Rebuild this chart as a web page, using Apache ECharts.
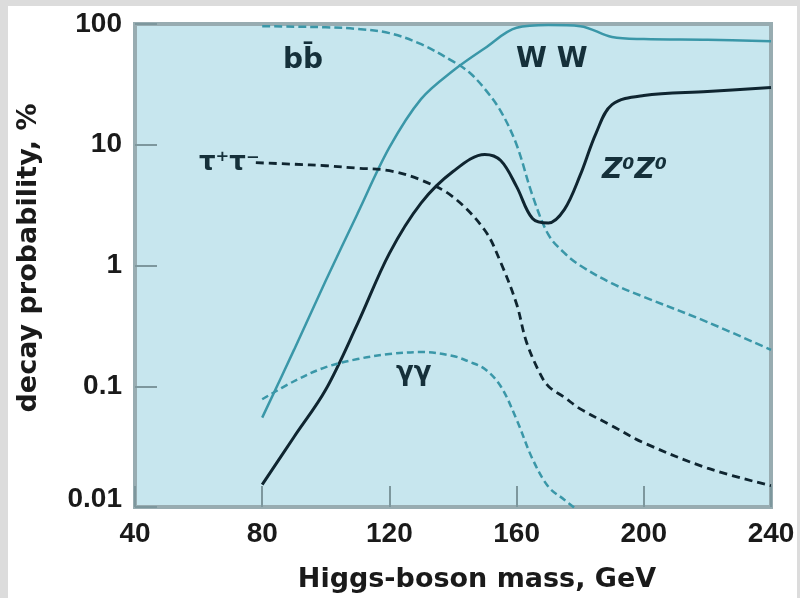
<!DOCTYPE html>
<html>
<head>
<meta charset="utf-8">
<script src="https://cdn.jsdelivr.net/npm/echarts@6/dist/echarts.min.js"></script>
<style>
  html, body { margin: 0; padding: 0; background: #dcdcdc; }
  #sheet { position: absolute; left: 8px; top: 6px; width: 789px; height: 592px; background: #ffffff; }
  #chart { position: absolute; left: 0; top: 0; width: 800px; height: 598px; }
</style>
</head>
<body>
<div id="sheet"></div>
<div id="chart"></div>
<script>
// Higgs-boson decay branching fractions (%) versus mass (GeV)
const massTicks = [40, 80, 120, 160, 200, 240];
const probTicks = ['0.01', '0.1', '1', '10', '100'];

const bbMass = [80, 90, 100, 110, 120, 130, 140, 145, 150, 155, 160, 165, 170, 175, 180, 190, 200, 220, 240];
const bbProb = [96, 95, 94, 91, 84, 68, 49, 40, 29, 19, 10, 3.8, 1.8, 1.27, 1.0, 0.71, 0.55, 0.34, 0.2];

const wwMass = [80, 90, 100, 110, 120, 130, 140, 150, 160, 170, 180, 190, 200, 220, 240];
const wwProb = [0.055, 0.2, 0.75, 2.7, 9.5, 24, 41, 63, 93, 98, 96, 78, 75, 74, 72];

const zzMass = [80, 90, 100, 110, 120, 130, 140, 150, 155, 160, 165, 170, 175, 180, 185, 190, 200, 220, 240];
const zzProb = [0.0153, 0.038, 0.094, 0.33, 1.26, 3.3, 6.0, 8.3, 7.4, 4.5, 2.45, 2.25, 2.9, 5.6, 12.5, 21.5, 25.6, 27.6, 29.8];

const tauMass = [78, 90, 100, 110, 120, 130, 140, 150, 155, 160, 163, 167, 170, 175, 180, 190, 200, 220, 240];
const tauProb = [7.1, 6.9, 6.7, 6.4, 6.1, 5.1, 3.7, 1.96, 1.06, 0.48, 0.237, 0.133, 0.1, 0.081, 0.065, 0.047, 0.034, 0.021, 0.015];

const gamMass = [80, 90, 100, 110, 120, 130, 140, 145, 150, 155, 160, 165, 170, 175, 180];
const gamProb = [0.078, 0.11, 0.144, 0.168, 0.185, 0.192, 0.178, 0.16, 0.139, 0.1, 0.053, 0.025, 0.0147, 0.0115, 0.009];

const zip = (xs, ys) => xs.map((x, i) => [x, ys[i]]);

const TEAL = '#3a97a8';
const DARK = '#0f2530';
const LABEL_FONT = 'DejaVu Sans';
const TICK_FONT = 'Liberation Sans';

function curve(name, mass, prob, color, dashed, width) {
  return {
    name: name,
    type: 'line',
    data: zip(mass, prob),
    showSymbol: false,
    smooth: 0.35,
    clip: true,
    lineStyle: { color: color, width: width, type: dashed ? dashed : 'solid' }
  };
}

const chart = echarts.init(document.getElementById('chart'), null, { renderer: 'canvas' });

chart.setOption({
  backgroundColor: 'transparent',
  animation: false,
  grid: {
    left: 135, top: 24, right: 29, bottom: 91,
    show: true,
    backgroundColor: '#c7e6ee',
    borderColor: '#98acb1',
    borderWidth: 4
  },
  xAxis: {
    type: 'value',
    min: massTicks[0],
    max: massTicks[massTicks.length - 1],
    interval: 40,
    name: 'Higgs-boson mass, GeV',
    nameLocation: 'middle',
    nameGap: 59,
    nameTextStyle: {
      fontFamily: LABEL_FONT, fontWeight: 'bold', fontSize: 27, color: '#1a1a1a',
      padding: [0, 0, 0, 48]
    },
    axisLine: { show: false },
    splitLine: { show: false },
    axisTick: { inside: true, length: 21, lineStyle: { color: '#7d979d', width: 2 } },
    axisLabel: {
      fontFamily: TICK_FONT, fontWeight: 'bold', fontSize: 28, color: '#1a1a1a', margin: 13,
      formatter: v => String(v)
    }
  },
  yAxis: {
    type: 'log',
    logBase: 10,
    min: 0.01,
    max: 100,
    name: 'decay probability, %',
    nameLocation: 'middle',
    nameGap: 93,
    nameTextStyle: {
      fontFamily: LABEL_FONT, fontWeight: 'bold', fontSize: 27, color: '#1a1a1a',
      padding: [0, 0, 0, 15]
    },
    axisLine: { show: false },
    splitLine: { show: false },
    minorTick: { show: false },
    axisTick: { inside: true, length: 22, lineStyle: { color: '#7d979d', width: 2 } },
    axisLabel: {
      fontFamily: TICK_FONT, fontWeight: 'bold', fontSize: 28, color: '#1a1a1a', margin: 13,
      formatter: v => {
        const idx = Math.round(Math.log10(v)) + 2;
        const txt = probTicks[idx];
        return idx === 0 ? '{low|' + txt + '}' : txt;
      },
      rich: {
        low: { fontFamily: TICK_FONT, fontWeight: 'bold', fontSize: 28, color: '#1a1a1a', padding: [0, 0, 16, 0] }
      }
    }
  },
  series: [
    curve('bb', bbMass, bbProb, TEAL, [8, 4], 2.5),
    curve('WW', wwMass, wwProb, TEAL, null, 2.5),
    curve('ZZ', zzMass, zzProb, DARK, null, 3),
    curve('tautau', tauMass, tauProb, DARK, [8, 5], 2.8),
    curve('gammagamma', gamMass, gamProb, TEAL, [7, 4], 2.5)
  ],
  graphic: [
    { type: 'text', left: 283, top: 47, z: 10,
      style: { text: 'bb\u0304', font: 'bold 28px "DejaVu Sans"', fill: '#15303a' } },
    { type: 'text', left: 516, top: 46, z: 10,
      style: { text: 'W W', font: 'bold 28px "DejaVu Sans"', fill: '#15303a' } },
    { type: 'text', left: 602, top: 157, z: 10,
      style: { text: 'Z\u2070Z\u2070', font: 'italic bold 28px "DejaVu Sans"', fill: '#15303a' } },
    { type: 'text', left: 199, top: 150, z: 10,
      style: { text: '\u03c4\u207a\u03c4\u207b', font: 'bold 26px "DejaVu Sans"', fill: '#15303a' } },
    { type: 'text', left: 396, top: 360, z: 10,
      style: { text: '\u03b3\u03b3', font: 'bold 26px "DejaVu Sans"', fill: '#15303a' } }
  ]
});
</script>
</body>
</html>
